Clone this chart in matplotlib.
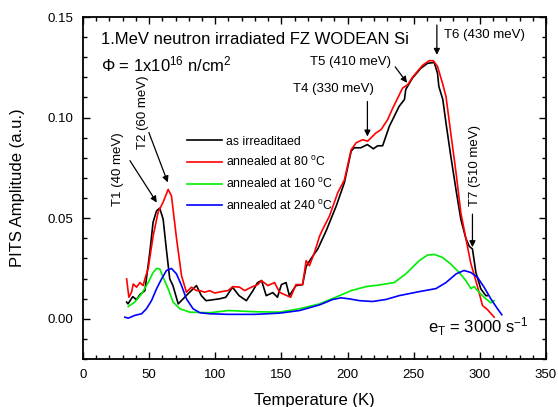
import numpy as np
import matplotlib
matplotlib.use("Agg")
import matplotlib.pyplot as plt
from matplotlib.ticker import MultipleLocator

plt.rcParams['font.family'] = ['Liberation Sans', 'DejaVu Sans']
plt.rcParams['mathtext.fontset'] = 'custom'
plt.rcParams['mathtext.rm'] = 'Liberation Sans'
plt.rcParams['mathtext.it'] = 'Liberation Sans'

# PITS spectra, temperature (K) vs amplitude (a.u.)
t_irr = [33, 34, 37.6, 40.5, 43, 46.8, 50.5, 53, 55.6, 58, 60.6, 63, 65.6, 68, 72, 78, 85.8,
         89.5, 93, 103, 108, 113, 118, 123.5, 128.5, 132, 135, 138.5, 143.5, 147, 150, 153.5,
         156, 161, 166, 168.7, 172.5, 177.5, 183.8, 191.4, 197.6, 202.7, 205, 210, 215, 219.5,
         222.8, 226.5, 231.6, 239, 243, 244, 249, 255.5, 260.5, 265.5, 268, 269, 272, 274.4,
         278, 282, 285.6, 289.4, 292, 294.4, 297, 300.7, 304.5, 305.7]
a_irr = [0.0083, 0.0074, 0.011, 0.0095, 0.012, 0.014, 0.033, 0.048, 0.0536, 0.055, 0.0495,
         0.0347, 0.0198, 0.0165, 0.0074, 0.0115, 0.0165, 0.0115, 0.009, 0.0099, 0.0107, 0.0157,
         0.0115, 0.009, 0.014, 0.018, 0.019, 0.0115, 0.013, 0.0107, 0.017, 0.018, 0.0115, 0.0165,
         0.017, 0.026, 0.030, 0.0347, 0.0437, 0.056, 0.0677, 0.0833, 0.085, 0.085, 0.0866,
         0.0845, 0.086, 0.086, 0.0957, 0.1056, 0.109, 0.114, 0.1196, 0.1246, 0.127, 0.1274,
         0.122, 0.1155, 0.109, 0.0973, 0.081, 0.064, 0.0495, 0.040, 0.036, 0.0347, 0.023,
         0.0149, 0.0115, 0.0115]

t_80 = [33, 34.7, 36.7, 38, 40.5, 43, 45.5, 46.8, 49.3, 53, 56.8, 60.6, 64.4, 66.9, 70.7,
        74.5, 78.2, 82, 85.8, 88.3, 92, 95.8, 99.6, 104.6, 109.6, 113.4, 118.4, 122.2, 127.3,
        132.2, 134.8, 139.8, 144.8, 148.6, 151, 157, 161, 166, 168.7, 171.2, 175, 178.8, 181.3,
        186.3, 192.6, 197.6, 202.7, 206.5, 211.4, 215.2, 217.8, 221.5, 225.3, 230.3, 234,
        241.6, 245.4, 249, 256.7, 261.7, 264.8, 268, 271.8, 274.4, 278, 282, 285.6, 289.4,
        293, 298, 302, 305.7, 310.8]
a_80 = [0.0198, 0.0107, 0.0132, 0.0173, 0.0157, 0.018, 0.0165, 0.0198, 0.025, 0.041, 0.053,
        0.058, 0.0643, 0.061, 0.040, 0.0214, 0.0132, 0.0157, 0.014, 0.014, 0.0132, 0.014,
        0.0128, 0.0135, 0.014, 0.016, 0.0157, 0.014, 0.0157, 0.017, 0.019, 0.0165, 0.018,
        0.0132, 0.0124, 0.0107, 0.017, 0.017, 0.0289, 0.0264, 0.033, 0.041, 0.0446, 0.051,
        0.0627, 0.069, 0.084, 0.0875, 0.089, 0.0883, 0.090, 0.0924, 0.094, 0.099, 0.1045,
        0.1147, 0.1163, 0.120, 0.126, 0.1283, 0.1283, 0.1254, 0.117, 0.1105, 0.0924, 0.0726,
        0.0528, 0.040, 0.028, 0.0165, 0.0066, 0.0046, 0.0008]

t_160 = [34.2, 39.2, 44.3, 49.3, 53, 55.6, 58, 60.6, 64.4, 68.1, 73.2, 80.7, 95.8, 110, 130,
         148.6, 163.7, 178.8, 193.9, 202.7, 214, 224, 235.3, 244, 254.2, 260.5, 265.5, 271.8,
         278, 284.4, 289.4, 293.2, 295.7, 298.2, 303.2, 308.3, 310.8]
a_160 = [0.0061, 0.0083, 0.0124, 0.018, 0.023, 0.025, 0.0248, 0.0206, 0.0149, 0.0083, 0.005,
         0.0033, 0.003, 0.0041, 0.0035, 0.0033, 0.005, 0.0074, 0.0115, 0.014, 0.016, 0.0168,
         0.018, 0.0223, 0.0289, 0.0317, 0.032, 0.0305, 0.0272, 0.023, 0.019, 0.015, 0.016,
         0.014, 0.0107, 0.0079, 0.009]

t_240 = [31.7, 34.2, 39.2, 44.3, 48, 51.8, 55.6, 59.4, 63.1, 66.9, 70.7, 74.5, 78.2, 83.2,
         88.3, 95.8, 110, 130, 148.6, 163.7, 178.8, 188.8, 195.1, 201.4, 209, 219, 229, 239,
         254.2, 266.8, 274.4, 282, 288, 293.2, 298.2, 303.2, 308.3, 313.3, 316.6]
a_240 = [0.0008, 0.0003, 0.0017, 0.0025, 0.005, 0.009, 0.0149, 0.0198, 0.024, 0.025, 0.0223,
         0.0165, 0.0099, 0.005, 0.003, 0.0025, 0.0022, 0.0022, 0.0028, 0.0041, 0.0069, 0.0096,
         0.0104, 0.0099, 0.009, 0.0086, 0.0096, 0.0115, 0.0135, 0.015, 0.018, 0.0223, 0.024,
         0.023, 0.0206, 0.0157, 0.0099, 0.005, 0.002]

series = [
    (t_irr, a_irr, 'black', 'as irreaditaed'),
    (t_80, a_80, '#ff0000', 'annealed at 80 $^{o}$C'),
    (t_160, a_160, '#00ee00', 'annealed at 160 $^{o}$C'),
    (t_240, a_240, '#0000ff', 'annealed at 240 $^{o}$C'),
]

fig = plt.figure(figsize=(5.58, 4.07), dpi=100)
ax = fig.add_axes([0.1487, 0.1179, 0.8298, 0.8403])

for t, a, c, lab in series:
    ax.plot(t, a, color=c, lw=1.2, label=lab)

ax.set_xlim(0, 350)
ax.set_ylim(-0.02, 0.15)
ax.xaxis.set_major_locator(MultipleLocator(50))
ax.xaxis.set_minor_locator(MultipleLocator(10))
ax.yaxis.set_major_locator(MultipleLocator(0.05))
ax.yaxis.set_minor_locator(MultipleLocator(0.01))
ax.yaxis.set_major_formatter(plt.FuncFormatter(lambda v, p: f"{v:.2f}"))
ax.tick_params(which='both', direction='in', top=True, right=True, labelsize=9.5,
               width=1.0)
ax.tick_params(which='major', length=5, pad=7)
ax.tick_params(which='minor', length=3)
for s in ax.spines.values():
    s.set_linewidth(1.3)

ax.set_xlabel('Temperature (K)', fontsize=12, labelpad=9)
ax.set_ylabel('PITS Amplitude (a.u.)', fontsize=12, labelpad=16)

ax.legend(loc='upper left', bbox_to_anchor=(0.2, 0.685), frameon=False, fontsize=8.8,
          handlelength=2.9, handletextpad=0.35, labelspacing=0.62)

ax.text(0.04, 0.935, '1.MeV neutron irradiated FZ WODEAN Si', transform=ax.transAxes,
        fontsize=12, va='center')
ax.text(0.04, 0.862, r'$\Phi$ = 1x10$^{16}$ n/cm$^{2}$', transform=ax.transAxes,
        fontsize=12, va='center')
ax.text(0.745, 0.095, r'e$_{T}$ = 3000 s$^{-1}$', transform=ax.transAxes,
        fontsize=12, va='center')

arrow = dict(arrowstyle='-|>', color='black', lw=0.9, mutation_scale=9,
             shrinkA=0, shrinkB=0)
# labelled peaks: (label, text pos, arrow tail, arrow head, rotation)
peaks = [
    ('T1 (40 meV)', (26.5, 0.0745), (35.5, 0.0786), (55.8, 0.0578), 90),
    ('T2 (60 meV)', (45.5, 0.1025), (49.8, 0.0926), (64.1, 0.0678), 90),
    ('T4 (330 meV)', (189.3, 0.1144), (215, 0.108), (215, 0.0906), 0),
    ('T5 (410 meV)', (202.5, 0.1277), (236, 0.1252), (245, 0.1173), 0),
    ('T6 (430 meV)', (303.2, 0.141), (267.5, 0.146), (267.5, 0.1312), 0),
    ('T7 (510 meV)', (296.5, 0.076), (294.4, 0.052), (294.4, 0.0356), 90),
]
for lab, tp, tail, head, rot in peaks:
    ax.annotate('', xy=head, xytext=tail, arrowprops=arrow)
    ax.text(tp[0], tp[1], lab, fontsize=9.5, rotation=rot, ha='center', va='center')

fig.savefig('out.png', dpi=100)
